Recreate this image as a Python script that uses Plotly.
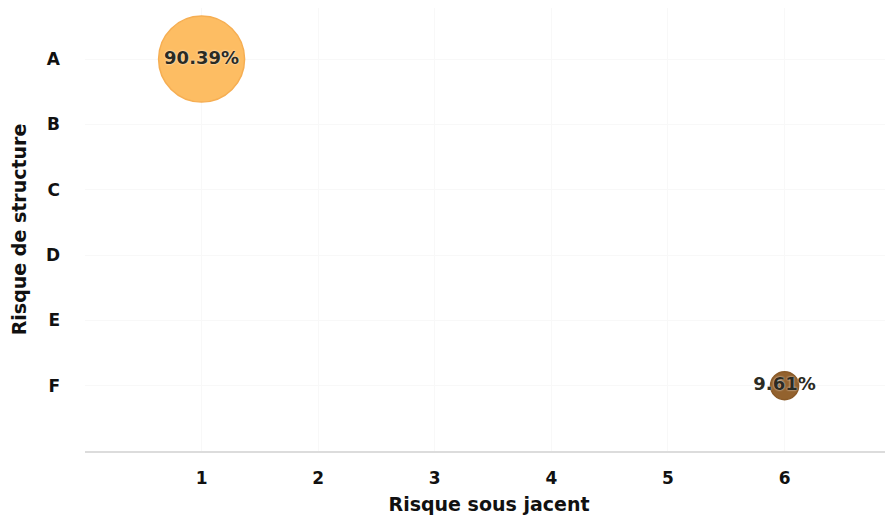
import plotly.graph_objects as go

x_categories = ["1", "2", "3", "4", "5", "6"]
y_categories = ["A", "B", "C", "D", "E", "F"]

bubble_x = [1, 6]
bubble_y = ["A", "F"]
bubble_values = [90.39, 9.61]
bubble_labels = ["90.39%", "9.61%"]
bubble_colors = ["#FDBD63", "#93622E"]
bubble_lines = ["#F6AE52", "#8A5A28"]

max_px = 86
sizeref = 2.0 * max(bubble_values) / (max_px ** 2)

fig = go.Figure()
fig.add_trace(go.Scatter(
    x=bubble_x,
    y=[y_categories.index(v) for v in bubble_y],
    mode="markers+text",
    text=bubble_labels,
    textposition="middle center",
    textfont=dict(family="DejaVu Sans", size=18, color="#2b2b22", weight="bold",
                  shadow="0px 0px 2px white"),
    marker=dict(size=bubble_values, sizemode="area", sizeref=sizeref,
                color=bubble_colors, opacity=1,
                line=dict(color=bubble_lines, width=1.5)),
    hoverinfo="skip",
    showlegend=False,
))

fig.update_layout(
    width=885, height=507,
    margin=dict(l=77, r=0, t=0, b=64),
    paper_bgcolor="white", plot_bgcolor="white",
    font=dict(family="DejaVu Sans", color="#111111"),
    xaxis=dict(
        range=[0, 6.93],
        tickvals=[int(c) for c in x_categories],
        ticktext=x_categories,
        tickfont=dict(size=17, weight="bold", color="#111111"),
        showgrid=True, gridcolor="#f8f8f8", gridwidth=1,
        zeroline=False,
        showline=True, linecolor="#dcdcdc", linewidth=2,
        ticks="", ticklabelstandoff=11,
        title=dict(text="Risque sous jacent", standoff=11,
                   font=dict(size=19, weight="bold", color="#111111")),
    ),
    yaxis=dict(
        range=[6, -0.782],
        tickvals=list(range(len(y_categories))),
        ticktext=y_categories,
        tickfont=dict(size=17, weight="bold", color="#111111"),
        showgrid=True, gridcolor="#f8f8f8", gridwidth=1,
        zeroline=False, showline=False,
        ticks="", ticklabelstandoff=24,
        title=dict(text="Risque de structure", standoff=18,
                   font=dict(size=19, weight="bold", color="#111111")),
    ),
)

fig.write_html("out.html")
